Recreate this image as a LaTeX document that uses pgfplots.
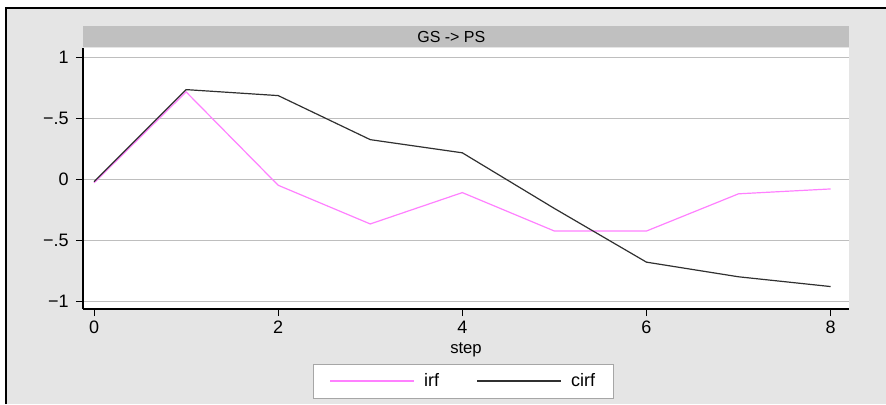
\documentclass[border=0pt]{standalone}
\usepackage{fontspec}
\setmainfont{Liberation Sans}
\usepackage{pgfplots}
\usepackage{pgfplotstable}
\pgfplotsset{compat=1.18}
\definecolor{bggray}{HTML}{E5E5E5}
\definecolor{bargray}{HTML}{C0C0C0}
\definecolor{gridgray}{HTML}{BEBEBE}
\definecolor{irfpink}{HTML}{FF80FF}
\definecolor{cirfblack}{HTML}{303030}

\pgfplotstableread{
step irf cirf
0 -0.03 -0.02
1 0.715 0.734
2 -0.05 0.685
3 -0.367 0.324
4 -0.11 0.216
5 -0.425 -0.24
6 -0.425 -0.68
7 -0.12 -0.80
8 -0.08 -0.88
}\irfdata

\begin{document}
\begin{tikzpicture}
\useasboundingbox (0,0) rectangle (664.5pt,-303pt);
\fill[white] (0,0) rectangle (664.5pt,-303pt);
\fill[bggray] (4.5pt,-6pt) rectangle (664.5pt,-303pt);
\draw[black, line width=1pt] (4.5pt,-303pt) -- (4.5pt,-6pt) -- (664.5pt,-6pt);
\fill[bargray] (62.25pt,-19.5pt) rectangle (636.75pt,-35.25pt);
\node[font=\fontsize{12}{12}\selectfont, inner sep=0pt] at (338.5pt,-27.4pt) {GS -> PS};
\begin{axis}[
  at={(62.25pt,-231.75pt)}, anchor=south west,
  width=574.5pt, height=195.75pt, scale only axis,
  xmin=-0.12, xmax=8.2, ymin=-1.064, ymax=1.075,
  axis x line*=bottom, axis y line*=left,
  axis line style={black, line width=0.8pt, -},
  axis background/.style={fill=white},
  xtick={0,2,4,6,8}, ytick={-1,-0.5,0,0.5,1},
  yticklabels={−1,−.5,0,−.5,1},
  xticklabels={0,2,4,6,8},
  ymajorgrids, grid style={gridgray, line width=0.8pt},
  tick align=outside, major tick length=5.25pt,
  tick style={black, line width=0.8pt},
  /pgf/number format/assume math mode=true,
  ticklabel style={font=\fontsize{13.5}{13.5}\selectfont},
  yticklabel style={xshift=-2pt},
  xlabel={step},
  xlabel style={font=\fontsize{12.5}{12.5}\selectfont, at={(axis description cs:0.5,-0.1686)}, anchor=base},
  legend columns=2,
  legend style={at={(0.497,-0.21)}, anchor=north, draw=gray!70, fill=white,
    font=\fontsize{13.5}{13.5}\selectfont, inner xsep=12pt, inner ysep=5pt,
    /tikz/every even column/.append style={column sep=26pt}},
  legend image code/.code={\draw[#1] (0pt,0pt) -- (63pt,0pt);},
]
\addplot[irfpink, line width=0.9pt] table[x=step, y=irf] {\irfdata};
\addlegendentry{\hspace{5pt}irf}
\addplot[cirfblack, line width=0.9pt] table[x=step, y=cirf] {\irfdata};
\addlegendentry{\hspace{5pt}cirf}
\end{axis}
\end{tikzpicture}
\end{document}
